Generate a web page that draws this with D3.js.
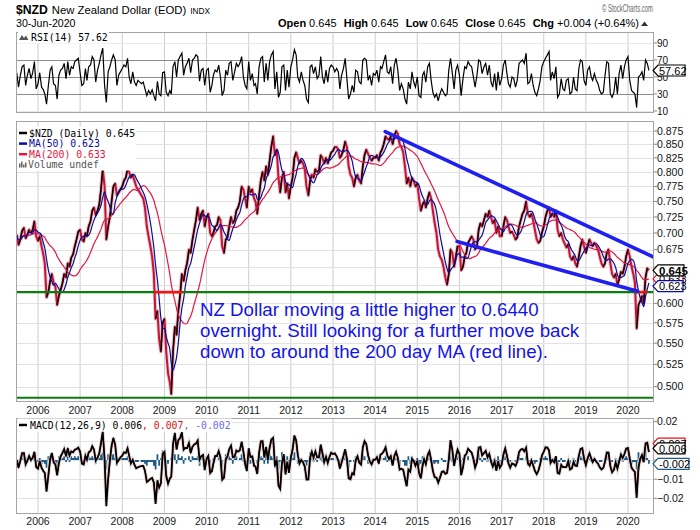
<!DOCTYPE html>
<html><head><meta charset="utf-8">
<script src="https://cdn.jsdelivr.net/npm/d3@7"></script>
<style>body{margin:0;background:#fff}svg{display:block}</style>
</head><body>
<svg id="chart" width="700" height="530"></svg>
<script>
// ---------------- DATA ----------------
// Semi-monthly closes (1st and 16th of each month), Jul 2005 .. Jun 2020, plus 30-Jun-2020
const price = [
0.697,0.682,0.690,0.703,0.708,0.692,0.697,0.705,0.700,0.705,0.718,0.695,
0.688,0.695,0.680,0.668,0.655,0.608,0.615,0.630,0.640,0.628,0.622,0.598,0.610,0.618,0.627,0.640,0.635,0.655,0.650,0.663,0.668,0.680,0.690,0.702,
0.705,0.690,0.687,0.700,0.695,0.710,0.718,0.735,0.740,0.728,0.735,0.745,0.770,0.805,0.775,0.690,0.710,0.725,0.750,0.775,0.780,0.760,0.765,0.770,
0.775,0.785,0.790,0.805,0.800,0.790,0.795,0.785,0.775,0.770,0.765,0.760,0.755,0.740,0.710,0.695,0.680,0.665,0.640,0.580,0.590,0.555,0.540,0.575,
0.580,0.540,0.515,0.505,0.492,0.540,0.570,0.560,0.590,0.610,0.640,0.630,0.645,0.655,0.675,0.670,0.690,0.705,0.720,0.740,0.720,0.730,0.735,0.710,
0.725,0.730,0.700,0.695,0.700,0.710,0.712,0.725,0.720,0.680,0.670,0.690,0.693,0.710,0.725,0.715,0.720,0.735,0.740,0.750,0.775,0.770,0.755,0.740,
0.775,0.765,0.770,0.755,0.750,0.730,0.760,0.785,0.800,0.785,0.810,0.795,0.820,0.845,0.865,0.830,0.840,0.790,0.765,0.790,0.800,0.765,0.780,0.755,
0.775,0.790,0.825,0.835,0.825,0.815,0.820,0.815,0.805,0.775,0.760,0.785,0.795,0.790,0.805,0.800,0.803,0.830,0.825,0.815,0.825,0.815,0.825,0.835,
0.838,0.845,0.845,0.840,0.825,0.830,0.840,0.855,0.845,0.810,0.795,0.790,0.775,0.790,0.795,0.785,0.780,0.810,0.830,0.840,0.832,0.826,0.820,0.825,
0.825,0.830,0.820,0.835,0.840,0.850,0.865,0.860,0.858,0.865,0.850,0.865,0.875,0.870,0.850,0.845,0.835,0.810,0.780,0.790,0.775,0.790,0.785,0.775,
0.780,0.755,0.735,0.745,0.750,0.740,0.755,0.765,0.755,0.735,0.715,0.700,0.675,0.665,0.660,0.650,0.635,0.625,0.640,0.675,0.670,0.650,0.665,0.680,
0.680,0.645,0.650,0.665,0.670,0.685,0.690,0.695,0.690,0.675,0.680,0.705,0.715,0.710,0.720,0.730,0.725,0.735,0.725,0.715,0.720,0.700,0.710,0.695,
0.695,0.710,0.725,0.720,0.710,0.700,0.702,0.697,0.690,0.693,0.710,0.720,0.730,0.735,0.750,0.730,0.725,0.730,0.720,0.705,0.690,0.685,0.688,0.700,
0.710,0.725,0.735,0.740,0.725,0.730,0.725,0.735,0.705,0.695,0.700,0.690,0.684,0.678,0.683,0.665,0.660,0.665,0.655,0.650,0.665,0.680,0.690,0.680,
0.670,0.680,0.690,0.685,0.680,0.685,0.680,0.675,0.665,0.655,0.650,0.655,0.670,0.675,0.655,0.640,0.635,0.640,0.625,0.632,0.643,0.640,0.650,0.665,
0.675,0.665,0.650,0.640,0.628,0.568,0.598,0.603,0.610,0.600,0.635,0.648,0.645
];
// RSI(14), same dates
const rsi = [
55,38,52,62,64,40,52,60,48,55,68,36,
42,55,38,35,30,18,40,58,62,42,40,24,52,58,60,66,48,68,52,62,60,68,70,72,
55,40,42,60,46,62,64,74,70,44,58,66,76,84,40,20,56,62,70,76,70,40,52,56,
60,64,62,72,50,42,56,44,40,46,44,42,44,36,28,34,30,35,28,22,45,30,28,55,
56,32,28,34,30,62,68,50,70,74,78,52,62,66,72,55,70,72,76,74,45,58,60,40,
58,60,32,40,52,58,56,64,50,28,34,58,52,66,68,46,56,66,62,66,74,50,40,36,
68,46,54,40,42,30,62,72,74,44,66,46,68,76,80,36,56,26,32,62,64,34,58,38,
62,70,82,76,50,44,56,46,40,24,20,62,64,54,62,48,52,74,50,42,58,44,60,64,
62,56,60,56,36,52,60,72,48,24,30,40,32,58,56,44,42,70,72,70,46,52,40,54,
52,58,44,62,60,68,76,56,54,62,42,64,72,58,34,42,36,24,18,44,36,56,44,38,
50,28,26,52,56,44,62,66,46,32,26,30,22,30,36,32,28,30,58,72,54,36,58,64,
52,28,48,62,60,68,64,62,50,38,52,70,68,54,62,66,52,64,44,38,54,34,56,40,
48,64,70,54,42,38,50,48,38,46,66,68,70,66,78,42,44,54,40,32,28,36,46,62,
68,72,76,80,46,56,48,62,26,30,48,36,34,46,48,30,32,50,36,34,60,70,68,46,
40,58,62,50,46,54,46,42,34,30,32,52,68,66,30,26,32,50,30,54,64,48,62,70,
74,46,34,32,30,14,50,52,56,46,70,66,57.62
];
// MACD histogram, in thousandths
const histThousandths = [
0,-2,1,2,1,-2,1,1,-1,1,2,-3,
-1,1,-2,-1,-2,-4,2,2,1,-2,-1,-3,2,1,1,2,-1,3,-1,2,1,2,1,2,
0,-2,-1,2,-1,2,1,2,1,-2,1,1,3,4,-4,-5,3,2,3,3,1,-3,1,1,
1,1,1,2,-1,-1,1,-1,-1,-1,0,-1,-1,-2,-3,-1,-1,-1,-3,-5,3,-3,1,5,
2,-4,-2,0,1,5,3,-2,3,1,2,-2,1,0,2,-1,2,1,1,2,-3,1,0,-3,
2,1,-3,0,1,1,0,2,-1,-4,0,3,0,2,1,-2,1,2,0,1,3,-1,-2,-2,
4,-2,1,-2,0,-2,4,2,1,-2,3,-2,3,2,1,-4,2,-5,-1,4,1,-4,2,-3,
3,1,4,0,-2,-1,1,-1,-1,-3,-1,4,1,-1,1,-1,0,4,-1,-2,1,-1,1,1,
1,0,1,0,-3,1,1,2,-2,-4,-1,0,-1,2,1,-1,0,4,2,0,-2,0,-1,1,
0,1,-2,2,0,1,2,-1,0,1,-2,2,1,-1,-3,0,-1,-3,-3,2,-2,2,0,-1,
1,-3,-2,2,1,-1,2,1,-2,-2,-2,-1,-2,0,1,-1,-1,0,3,4,-1,-3,2,2,
0,-4,1,2,0,2,0,0,-1,-2,1,3,1,-1,1,1,-1,1,-2,-1,1,-3,2,-2,
0,2,2,-1,-2,-1,0,0,-1,0,3,1,1,0,2,-3,-1,1,-1,-2,-1,0,1,2,
1,2,1,0,-2,1,-1,1,-3,-1,1,-1,-1,0,0,-2,0,1,-1,0,2,2,1,-1,
-2,1,1,-1,-1,1,-1,0,-1,-1,0,1,2,0,-3,-1,0,1,-2,1,2,-1,1,2,
1,-2,-2,-1,-1,-5,4,1,1,-1,4,1,-2
];
const years = [2006,2007,2008,2009,2010,2011,2012,2013,2014,2015,2016,2017,2018,2019,2020];
const priceTicks = [0.500,0.525,0.550,0.575,0.600,0.625,0.650,0.675,0.700,0.725,0.750,0.775,0.800,0.825,0.850,0.875];
const rsiTicks = [10,30,50,70,90];
const rsiRefLines = [30,50,70];
const macdTicks = [0.02,0.01,0,-0.01,-0.02];
const greenLevels = [0.615, 0.488];
const redSegments = [["2008-10-03","2009-06-09",0.615],["2020-03-13","2020-06-17",0.615]];
const trendLines = [[["2014-03-29",0.874],["2020-08-10",0.664]],[["2015-12-12",0.687],["2020-03-25",0.616]]];
const annotation = ["NZ Dollar moving a little higher to 0.6440","overnight. Still looking for a further move back","down to around the 200 day MA (red line)."];
const lastClose = 0.645, lastMA50 = 0.623, lastMA200 = 0.633, lastRSI = 57.62, lastMACD = 0.006, lastSignal = 0.007, lastHist = -0.002;
const headerStats = [["Open","0.645"],["High","0.645"],["Low","0.645"],["Close","0.645"],["Chg","+0.004 (+0.64%)"]];

// ---------------- SETUP ----------------
const parse = d3.timeParse("%Y-%m-%d");
const dates = [];
d3.timeMonth.range(new Date(2005,6,1), new Date(2020,6,1)).forEach(m => { dates.push(m); dates.push(new Date(m.getFullYear(), m.getMonth(), 16)); });
dates.push(new Date(2020,5,30));
const N = Math.min(dates.length, price.length);

// Indicators derived from price (daily periods converted to the semi-monthly step)
const stepDays = 10.5;
const alphaFor = n => 1 - Math.pow(1 - 2/(n+1), stepDays);
function ema(arr, a){ let e; return arr.map((v,i)=> (e = i ? e + a*(v-e) : v)); }
function sma(arr, n){ return arr.map((_,i)=> d3.mean(arr.slice(Math.max(0,i-n+1), i+1))); }
const ma50 = sma(price, Math.round(50/stepDays));
const ma200 = sma(price, Math.round(200/stepDays));
const fast = ema(price, alphaFor(12)), slow = ema(price, alphaFor(26));
const macd = price.map((_,i)=> fast[i]-slow[i]);
const signal = ema(macd, alphaFor(9));
const hist = histThousandths.map(v => v/1000);

const SANS = "'Liberation Sans', Arial, Helvetica, sans-serif";
const MONO = "'DejaVu Sans Mono', monospace";
const L = 16, R = 654;
const P = {rsi:[32,113], main:[121,402], macd:[418,514]};

const x = d3.scaleTime().domain([new Date(2006,0,1), new Date(2020,0,1)]).range([38,628]);
const yP = d3.scaleLog().domain([0.4835,0.8944]).range([402,121]);
const yR = d3.scaleLinear().domain([7.6,102.9]).range([113,32]);
const yM = d3.scaleLinear().domain([-0.0282,0.0219]).range([514,418]);

const svg = d3.select("#chart");
svg.append("rect").attr("width",700).attr("height",530).attr("fill","#fff");
const defs = svg.append("defs");

function panel(name, top, bottom){
  defs.append("clipPath").attr("id","clip-"+name).append("rect")
    .attr("x",L).attr("y",top).attr("width",R-L).attr("height",bottom-top);
  const g = svg.append("g");
  g.append("rect").attr("x",L).attr("y",top).attr("width",R-L).attr("height",bottom-top).attr("fill","#fff");
  const grid = g.append("g");
  grid.selectAll(null).data(years).join("line")
    .attr("x1",d=>x(new Date(d,0,1))).attr("x2",d=>x(new Date(d,0,1)))
    .attr("y1",top).attr("y2",bottom).attr("stroke","#cdcdcd").attr("stroke-width",1);
  const inner = g.append("g").attr("clip-path",`url(#clip-${name})`);
  return {g, grid, inner, top, bottom};
}
function border(p){
  p.g.append("rect").attr("x",L+0.5).attr("y",p.top+0.5).attr("width",R-L-1).attr("height",p.bottom-p.top-1)
    .attr("fill","none").attr("stroke","#a5a5a5");
}
function hgrid(p, vals, scale, color){
  p.grid.selectAll(null).data(vals).join("line")
    .attr("x1",L).attr("x2",R).attr("y1",d=>Math.round(scale(d))+0.5).attr("y2",d=>Math.round(scale(d))+0.5)
    .attr("stroke",color).attr("stroke-width",1);
}
// right-hand labels; labels that sit fully under a value tag are not drawn (hidden in the reference)
function rightLabels(vals, scale, fmt, size, tagYs, minGap){
  const g = svg.append("g");
  vals.forEach(v=>{
    const yy = scale(v);
    g.append("line").attr("x1",R).attr("x2",R+3).attr("y1",yy).attr("y2",yy).attr("stroke","#888");
    if (tagYs.some(t => Math.abs(t-yy) < minGap)) return;
    g.append("text").attr("x",R+3).attr("y",yy).attr("dy","0.36em").attr("font-family",SANS)
      .attr("font-size",size).attr("fill","#111").text(fmt(v));
  });
}
function tag(yy, text, stroke, w, bold, color){
  const h = 11, x0 = R-1;
  const g = svg.append("g");
  g.append("path").attr("d",`M${x0},${yy} L${x0+5},${yy-h/2} L${x0+5+w},${yy-h/2} L${x0+5+w},${yy+h/2} L${x0+5},${yy+h/2} Z`)
    .attr("fill","#fff").attr("stroke",stroke).attr("stroke-width",1.2);
  g.append("text").attr("x",x0+6).attr("y",yy).attr("dy","0.37em").attr("font-family",SANS)
    .attr("font-size",bold?11.5:11).attr("font-weight",bold?"bold":"normal").attr("fill",color||"#000").text(text);
}
function legendBg(g, pad){
  const b = g.node().getBBox();
  g.insert("rect",":first-child").attr("x",b.x-pad).attr("y",b.y-1).attr("width",b.width+2*pad).attr("height",b.height+2).attr("fill","#fff");
}

// ---------------- HEADER ----------------
const head = svg.append("g").attr("font-family",SANS);
const t1 = head.append("text").attr("x",16).attr("y",13.5).attr("fill","#000");
t1.append("tspan").attr("font-weight","bold").attr("font-size",12.2).text("$NZD");
t1.append("tspan").attr("font-size",11.3).attr("dx",4).text("New Zealand Dollar (EOD)");
t1.append("tspan").attr("font-size",8.3).attr("dx",4).text("INDX");
head.append("text").attr("x",16).attr("y",27).attr("font-size",10.6).attr("fill","#000").text("30-Jun-2020");
head.append("text").attr("x",653).attr("y",12).attr("text-anchor","end").attr("font-size",10).attr("fill","#666")
  .attr("textLength",51).attr("lengthAdjust","spacingAndGlyphs").text("© StockCharts.com");
const t2 = head.append("text").attr("x",639).attr("y",27).attr("text-anchor","end").attr("font-size",11).attr("fill","#000");
headerStats.forEach((s,i)=>{
  t2.append("tspan").attr("font-weight","bold").attr("dx", i?7:0).text(s[0]);
  t2.append("tspan").attr("dx",3).text(s[1]);
});
head.append("path").attr("d","M641,26 L648,26 L644.5,21.5 Z").attr("fill","#333");

// ---------------- RSI PANEL ----------------
const pR = panel("rsi", P.rsi[0], P.rsi[1]);
hgrid(pR, [10,90], yR, "#e8e8e8");
hgrid(pR, rsiRefLines, yR, "#8c8c8c");
pR.inner.append("path").datum(d3.range(N)).attr("fill","none").attr("stroke","#000").attr("stroke-width",1.2)
  .attr("d", d3.line().x(i=>x(dates[i])).y(i=>yR(rsi[i])));
border(pR);
const lgR = svg.append("g");
lgR.append("path").attr("d","M19,40 L22,35 L24,38 L26,35.5 L28.5,40 Z").attr("fill","#555");
lgR.append("text").attr("x",31).attr("y",40.5).attr("font-family",MONO).attr("font-size",9.8).attr("fill","#000").text("RSI(14) " + lastRSI.toFixed(2));
legendBg(lgR, 1);
rightLabels(rsiTicks, yR, d=>String(d), 10, [yR(lastRSI)], 4);
tag(yR(lastRSI), lastRSI.toFixed(2), "#000", 27, false);

// ---------------- MAIN PANEL ----------------
const pM = panel("main", P.main[0], P.main[1]);
hgrid(pM, priceTicks, yP, "#e2e2e2");
const pts = d3.range(N).map(i=>[x(dates[i]), yP(price[i])]);
pM.inner.append("path").attr("d", d3.line()(pts)).attr("fill","none").attr("stroke","#dacfd2").attr("stroke-width",4).attr("stroke-linejoin","round");
pM.inner.append("path").attr("d", d3.line()(pts)).attr("fill","none").attr("stroke","#cc1036").attr("stroke-width",2).attr("stroke-linejoin","round");
let up = "";
for(let i=1;i<N;i++){ if(price[i] > price[i-1]) up += `M${pts[i-1][0]},${pts[i-1][1]}L${pts[i][0]},${pts[i][1]}`; }
pM.inner.append("path").attr("d", up).attr("fill","none").attr("stroke","#000").attr("stroke-width",1.3);
const maLine = arr => d3.line().curve(d3.curveMonotoneX).x(i=>x(dates[i])).y(i=>yP(arr[i]));
pM.inner.append("path").datum(d3.range(N)).attr("fill","none").attr("stroke","#e3173f").attr("stroke-width",1.2).attr("d", maLine(ma200));
pM.inner.append("path").datum(d3.range(N)).attr("fill","none").attr("stroke","#0b0b9c").attr("stroke-width",1.2).attr("d", maLine(ma50));
greenLevels.forEach(v=>{
  pM.inner.append("line").attr("x1",L).attr("x2",R).attr("y1",yP(v)).attr("y2",yP(v)).attr("stroke","#0a7d0a").attr("stroke-width",2.2);
});
redSegments.forEach(s=>{
  pM.inner.append("line").attr("x1",x(parse(s[0]))).attr("x2",x(parse(s[1]))).attr("y1",yP(s[2])).attr("y2",yP(s[2]))
    .attr("stroke","#ff1010").attr("stroke-width",2.6);
});
trendLines.forEach(t=>{
  pM.inner.append("line").attr("x1",x(parse(t[0][0]))).attr("y1",yP(t[0][1])).attr("x2",x(parse(t[1][0]))).attr("y2",yP(t[1][1]))
    .attr("stroke","#1f1fef").attr("stroke-width",3.6).attr("stroke-linecap","round");
});
const ann = pM.inner.append("text").attr("font-family",SANS).attr("font-size",18.7).attr("fill","#1414e6");
annotation.forEach((s,i)=> ann.append("tspan").attr("x",200).attr("y",316 + i*21).text(s));
border(pM);
const lgM = svg.append("g").attr("font-family",MONO).attr("font-size",9.8);
const legItems = [["$NZD (Daily) " + lastClose.toFixed(3),"#000"],["MA(50) " + lastMA50.toFixed(3),"#0b0b9c"],["MA(200) " + lastMA200.toFixed(3),"#e3173f"]];
legItems.forEach((it,i)=>{
  const yy = 133 + i*10.6;
  lgM.append("line").attr("x1",19).attr("x2",27).attr("y1",yy).attr("y2",yy).attr("stroke",it[1]).attr("stroke-width",2.5);
  lgM.append("text").attr("x",29).attr("y",yy+3.5).attr("fill",it[1]).text(it[0]);
});
[[19,4],[21,6],[23,3],[25,5]].forEach(b=> lgM.append("rect").attr("x",b[0]).attr("y",167.5-b[1]).attr("width",1.5).attr("height",b[1]).attr("fill","#666"));
lgM.append("text").attr("x",28).attr("y",167.5).attr("fill","#555").text("Volume undef");
legendBg(lgM, 1);
rightLabels(priceTicks, yP, d3.format(".3f"), 10.5, [yP(lastClose), yP(lastMA50)], 6);
// stacked value tags as in the reference: MA(200) behind, MA(50) and close in front
tag(yP(lastMA200), lastMA200.toFixed(3), "#e3173f", 25, false);
tag(yP(lastMA50), lastMA50.toFixed(3), "#0b0b9c", 25, false);
tag(yP(lastClose), lastClose.toFixed(3), "#000", 26, true);

// ---------------- MACD PANEL ----------------
const pD = panel("macd", P.macd[0], P.macd[1]);
hgrid(pD, macdTicks, yM, "#e2e2e2");
let hb = "";
for(let i=0;i<N;i++){ const xx = x(dates[i]); hb += `M${xx},${yM(0)}V${yM(hist[i])}`; }
pD.inner.append("path").attr("d",hb).attr("stroke","#1f5b87").attr("stroke-width",1.8).attr("fill","none");
const mLine = arr => d3.line().x(i=>x(dates[i])).y(i=>yM(arr[i]));
pD.inner.append("path").datum(d3.range(N)).attr("fill","none").attr("stroke","#d2d2d2").attr("stroke-width",3.6).attr("stroke-opacity",0.8).attr("d", mLine(macd));
pD.inner.append("path").datum(d3.range(N)).attr("fill","none").attr("stroke","#ee1111").attr("stroke-width",1.4).attr("d", mLine(signal));
pD.inner.append("path").datum(d3.range(N)).attr("fill","none").attr("stroke","#000").attr("stroke-width",1.7).attr("d", mLine(macd));
border(pD);
const lgD = svg.append("g").attr("font-family",MONO).attr("font-size",9.8);
lgD.append("line").attr("x1",19).attr("x2",27).attr("y1",425).attr("y2",425).attr("stroke","#000").attr("stroke-width",2.5);
const mt = lgD.append("text").attr("x",30).attr("y",428.5);
mt.append("tspan").attr("fill","#000").text("MACD(12,26,9) " + lastMACD.toFixed(3));
mt.append("tspan").attr("fill","#e01010").text(", " + lastSignal.toFixed(3));
mt.append("tspan").attr("fill","#6a6aee").text(", " + lastHist.toFixed(3));
legendBg(lgD, 1);
rightLabels(macdTicks, yM, d3.format(".2f"), 10.5, [yM(lastSignal), yM(lastMACD), yM(lastHist)], 6);
tag(yM(lastSignal)-3, lastSignal.toFixed(3), "#ee1111", 27, false);
tag(yM(lastMACD), lastMACD.toFixed(3), "#000", 27, false);
tag(yM(lastHist), lastHist.toFixed(3), "#1f5b87", 31, false);

// ---------------- YEAR LABELS ----------------
[414, 525].forEach(yy=>{
  svg.append("g").selectAll(null).data(years).join("text")
    .attr("x",d=>x(new Date(d,0,1))).attr("y",yy).attr("text-anchor","middle")
    .attr("font-family",SANS).attr("font-size",10.5).attr("fill","#222").text(d=>d);
});
</script>
</body></html>
